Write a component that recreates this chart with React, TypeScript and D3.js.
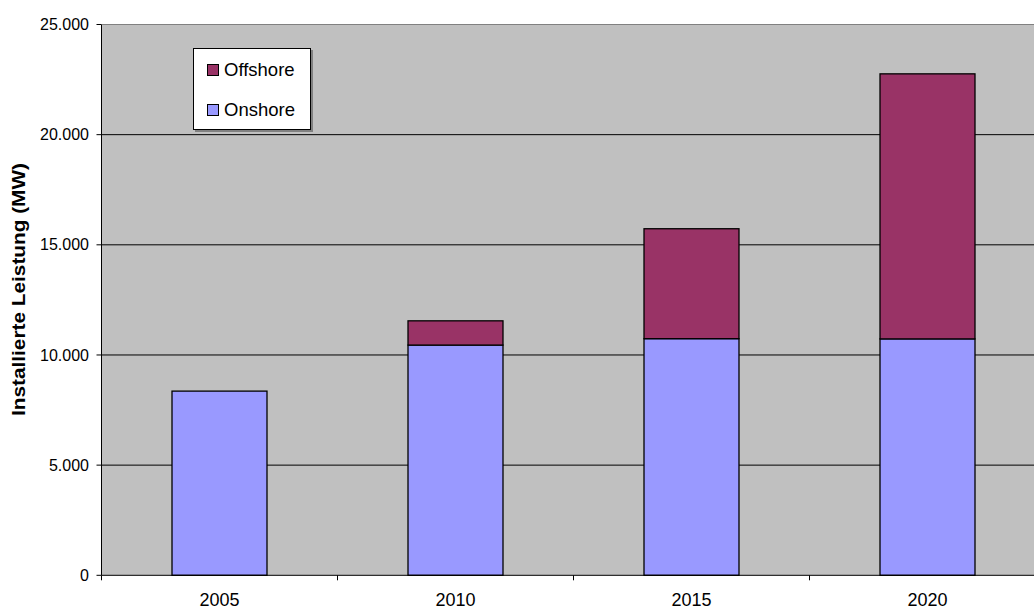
import React from "react";
import * as d3 from "d3";

const years = ["2005", "2010", "2015", "2020"];
const onshore = [8360, 10450, 10740, 10730];
const offshore = [0, 1100, 4990, 12030];
const yTicks = [0, 5000, 10000, 15000, 20000, 25000];
const seriesNames = ["Onshore", "Offshore"];
const seriesColors = ["#9999FF", "#993366"];

export default function App() {
  const W = 1034, H = 610;
  const left = 101.5, top = 24.5, bottom = 575.3;
  const step = 236;
  const right = left + step * years.length;
  const x = d3.scaleBand().domain(years).range([left, right]).paddingInner(0.5975).paddingOuter(0.29875);
  const y = d3.scaleLinear().domain([0, 25000]).range([bottom, top]);
  const fmt = (v: number) => (v === 0 ? "0" : d3.format(",")(v).replace(/,/g, "."));
  const stackData = years.map((yr, i) => ({ year: yr, Onshore: onshore[i], Offshore: offshore[i] }));
  const stacks = d3.stack<any>().keys(seriesNames)(stackData);
  const boundaries = d3.range(years.length + 1).map((i) => left + i * step);

  return (
    <svg width={W} height={H} style={{ position: "absolute", left: 0, top: 0, fontFamily: "'Liberation Sans', Arial, sans-serif" }}>
      <rect x={0} y={0} width={W} height={H} fill="#fff" />
      <rect x={left} y={top} width={right - left} height={bottom - top} fill="#C0C0C0" />
      {yTicks.map((t) => (
        <g key={t}>
          {t > 0 && t < 25000 && (
            <line x1={left} x2={right} y1={y(t)} y2={y(t)} stroke="#000" strokeWidth={1} />
          )}
          <line x1={left - 5} x2={left} y1={y(t)} y2={y(t)} stroke="#000" />
          <text x={89} y={y(t)} dy="0.35em" textAnchor="end" fontSize={16} fill="#000">
            {fmt(t)}
          </text>
        </g>
      ))}
      <line x1={left} x2={right} y1={top} y2={top} stroke="#808080" strokeWidth={1} />
      {stacks.map((s, si) =>
        s.map((d, i) =>
          d[1] - d[0] > 0 ? (
            <rect
              key={si + "-" + i}
              x={x(years[i])}
              y={y(d[1])}
              width={x.bandwidth()}
              height={y(d[0]) - y(d[1])}
              fill={seriesColors[si]}
              stroke="#000"
              strokeWidth={1.3}
            />
          ) : null
        )
      )}
      <line x1={left} x2={left} y1={top} y2={bottom} stroke="#000" />
      <line x1={left} x2={right} y1={bottom} y2={bottom} stroke="#000" />
      {boundaries.map((b, i) => (
        <line key={i} x1={b} x2={b} y1={bottom} y2={bottom + 5} stroke="#000" />
      ))}
      {years.map((yr) => (
        <text key={yr} x={(x(yr) as number) + x.bandwidth() / 2} y={606} textAnchor="middle" fontSize={18} fill="#000">
          {yr}
        </text>
      ))}
      <text
        transform={`translate(25, 289.5) rotate(-90)`}
        textAnchor="middle"
        fontSize={19}
        fontWeight="bold"
        fill="#000"
        textLength={253}
        lengthAdjust="spacingAndGlyphs"
      >
        Installierte Leistung (MW)
      </text>
      <g>
        <rect x={195} y={50} width={118} height={82} fill="#808080" />
        <rect x={193.5} y={48.5} width={117} height={81} fill="#fff" stroke="#000" />
        {[1, 0].map((si, k) => (
          <g key={si}>
            <rect x={207.5} y={64.5 + k * 40} width={11} height={11} fill={seriesColors[si]} stroke="#000" />
            <text x={224} y={70 + k * 40} dy="0.35em" fontSize={18.5} fill="#000">
              {seriesNames[si]}
            </text>
          </g>
        ))}
      </g>
    </svg>
  );
}
